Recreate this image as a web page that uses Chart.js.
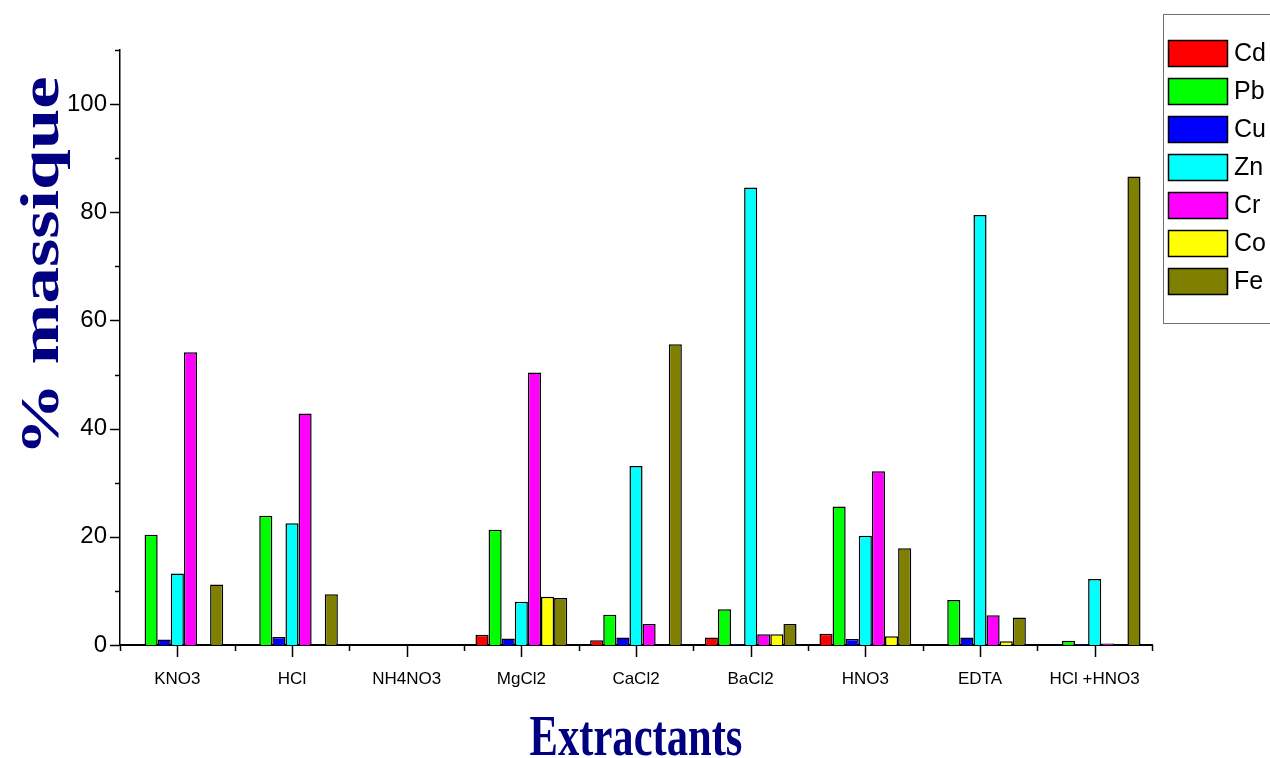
<!DOCTYPE html>
<html>
<head>
<meta charset="utf-8">
<script src="https://cdn.jsdelivr.net/npm/chart.js@4"></script>
<style>
  html, body { margin: 0; padding: 0; background: #ffffff; }
  #wrap { width: 1270px; height: 758px; }
</style>
</head>
<body>
<div id="wrap"><canvas id="c" width="1270" height="758"></canvas></div>
<script>
// Extractants (x categories)
const categories = ['KNO3', 'HCl', 'NH4NO3', 'MgCl2', 'CaCl2', 'BaCl2', 'HNO3', 'EDTA', 'HCl +HNO3'];

// % massique extracted per metal
const cd = [0,    0,    0, 1.9,  0.9,  1.4,  2.1,  0,    0];
const pb = [20.4, 23.9, 0, 21.3, 5.6,  6.6,  25.6, 8.3,  0.8];
const cu = [1.0,  1.5,  0, 1.2,  1.4,  0.2,  1.1,  1.4,  0.2];
const zn = [13.2, 22.5, 0, 8.0,  33.1, 84.6, 20.2, 79.5, 12.2];
const cr = [54.1, 42.8, 0, 50.4, 3.9,  2.0,  32.1, 5.5,  0.3];
const co = [0,    0,    0, 8.9,  0,    2.0,  1.6,  0.7,  0];
const fe = [11.2, 9.4,  0, 8.7,  55.6, 3.9,  17.9, 5.1,  86.6];

const metals = ['Cd', 'Pb', 'Cu', 'Zn', 'Cr', 'Co', 'Fe'];
const seriesValues = [cd, pb, cu, zn, cr, co, fe];
const colours = ['#ff0000', '#00ff00', '#0000ff', '#00ffff', '#ff00ff', '#ffff00', '#808000'];

const yTicks = [0, 20, 40, 60, 80, 100];

const sans = '"Liberation Sans", Arial, sans-serif';
const serif = '"Liberation Serif", "Times New Roman", serif';
const navy = '#000080';

// Tick marks: long at labelled positions, short in between
const tickMarks = {
  id: 'tickMarks',
  afterDraw(chart) {
    const ctx = chart.ctx;
    const x = chart.scales.x, y = chart.scales.y;
    const area = chart.chartArea;
    ctx.save();
    ctx.strokeStyle = '#000';
    ctx.lineWidth = 1.5;
    for (let v = 0; v <= 110; v += 10) {
      const py = Math.round(y.getPixelForValue(v)) + 0.5;
      const len = yTicks.includes(v) ? 10 : 5;
      ctx.beginPath();
      ctx.moveTo(area.left, py);
      ctx.lineTo(area.left - len, py);
      ctx.stroke();
    }
    const n = categories.length;
    for (let i = 0; i < n; i++) {
      const px = Math.round(x.getPixelForValue(i)) + 0.5;
      ctx.beginPath();
      ctx.moveTo(px, area.bottom);
      ctx.lineTo(px, area.bottom + 12);
      ctx.stroke();
    }
    const step = (area.right - area.left) / n;
    for (let i = 0; i <= n; i++) {
      const px = Math.round(area.left + i * step) + 0.5;
      ctx.beginPath();
      ctx.moveTo(px, area.bottom);
      ctx.lineTo(px, area.bottom + 6);
      ctx.stroke();
    }
    ctx.restore();
  }
};

// Axis titles in condensed bold serif
const axisTitles = {
  id: 'axisTitles',
  afterDraw(chart) {
    const ctx = chart.ctx;
    ctx.save();
    ctx.fillStyle = navy;
    ctx.textAlign = 'center';
    ctx.textBaseline = 'alphabetic';
    ctx.font = 'bold 56px ' + serif;
    ctx.translate(636, 755);
    ctx.scale(0.76, 1);
    ctx.fillText('Extractants', 0, 0);
    ctx.restore();

    ctx.save();
    ctx.fillStyle = navy;
    ctx.textAlign = 'center';
    ctx.textBaseline = 'alphabetic';
    ctx.font = 'bold 73px ' + serif;
    ctx.translate(58, 266);
    ctx.rotate(-Math.PI / 2);
    ctx.scale(1, 0.76);
    ctx.fillText('% massique', 0, 0);
    ctx.restore();
  }
};

// Boxed legend at the top right
const boxLegend = {
  id: 'boxLegend',
  afterDraw(chart) {
    const ctx = chart.ctx;
    ctx.save();
    ctx.strokeStyle = '#707070';
    ctx.lineWidth = 1;
    ctx.strokeRect(1163.5, 14.5, 120, 309);
    chart.data.datasets.forEach((ds, i) => {
      const top = 40 + i * 38;
      ctx.fillStyle = ds.backgroundColor;
      ctx.fillRect(1168, top, 60, 27);
      ctx.strokeStyle = '#000';
      ctx.lineWidth = 1.5;
      ctx.strokeRect(1168.5, top + 0.5, 59, 26);
      ctx.fillStyle = '#000';
      ctx.font = '25px ' + sans;
      ctx.textAlign = 'left';
      ctx.textBaseline = 'middle';
      ctx.fillText(ds.label, 1234, top + 14);
    });
    ctx.restore();
  }
};

new Chart(document.getElementById('c'), {
  type: 'bar',
  data: {
    labels: categories,
    datasets: metals.map((m, i) => ({
      label: m,
      data: seriesValues[i],
      backgroundColor: colours[i],
      borderColor: '#000',
      borderWidth: 1.5,
      categoryPercentage: 0.8,
      barPercentage: 1.0
    }))
  },
  options: {
    responsive: false,
    animation: false,
    devicePixelRatio: 1,
    layout: { padding: { top: 50, right: 118, left: 0, bottom: 0 } },
    plugins: {
      legend: { display: false },
      tooltip: { enabled: false }
    },
    scales: {
      x: {
        offset: true,
        grid: { display: false, drawTicks: true, tickLength: 12 },
        border: { display: true, color: '#000', width: 2 },
        ticks: {
          color: '#000',
          font: { family: sans, size: 17 },
          padding: 12,
          maxRotation: 0,
          autoSkip: false
        },
        afterFit(scale) { scale.height = 113; }
      },
      y: {
        min: 0,
        max: 110,
        grid: { display: false, drawTicks: true, tickLength: 10 },
        border: { display: true, color: '#000', width: 1.5 },
        ticks: {
          stepSize: 10,
          color: '#000',
          font: { family: sans, size: 24 },
          padding: 3,
          callback: (v) => (yTicks.includes(v) ? String(v) : '')
        },
        afterFit(scale) { scale.width = 120; }
      }
    }
  },
  plugins: [tickMarks, axisTitles, boxLegend]
});
</script>
</body>
</html>
